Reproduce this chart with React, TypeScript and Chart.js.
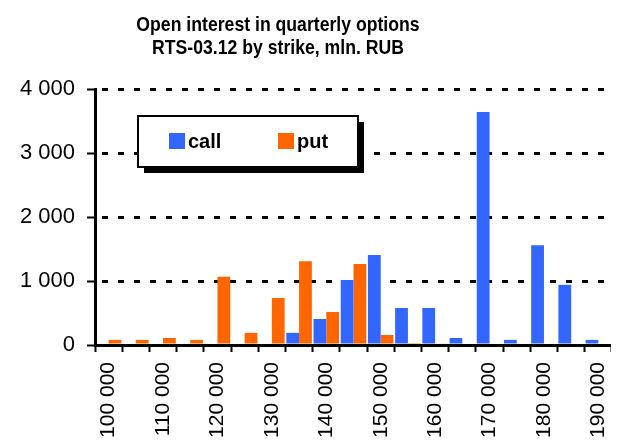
import React, { useEffect, useRef } from "react";
import { Chart, registerables } from "chart.js";

Chart.register(...registerables);

const strikes: string[] = [
  "100 000", "105 000", "110 000", "115 000", "120 000", "125 000", "130 000",
  "135 000", "140 000", "145 000", "150 000", "155 000", "160 000", "165 000",
  "170 000", "175 000", "180 000", "185 000", "190 000",
];
const callValues: number[] = [0, 0, 0, 0, 0, 0, 0, 190, 406, 1016, 1406, 578, 578, 110, 3640, 80, 1560, 940, 80];
const putValues: number[] = [80, 80, 110, 80, 1067, 190, 734, 1310, 516, 1266, 156, 30, 25, 0, 0, 0, 0, 0, 0];
const titleLines: string[] = ["Open interest in quarterly options", "RTS-03.12 by strike, mln. RUB"];
const seriesNames: string[] = ["call", "put"];
const seriesColors: string[] = ["#3366FF", "#FF6600"];

const FONT = "'Liberation Sans', Arial, sans-serif";

const titlePlugin = {
  id: "scaledTitle",
  afterDraw(chart: any) {
    const ctx = chart.ctx;
    ctx.save();
    ctx.fillStyle = "#000";
    ctx.font = `bold 21px ${FONT}`;
    ctx.textAlign = "center";
    ctx.textBaseline = "alphabetic";
    const baselines = [23, 46];
    titleLines.forEach((line, i) => {
      ctx.save();
      ctx.translate(270, baselines[i]);
      ctx.scale(0.84, 1);
      ctx.fillText(line, 0, 0);
      ctx.restore();
    });
    ctx.restore();
  },
};

const legendPlugin = {
  id: "boxLegend",
  afterDraw(chart: any) {
    const ctx = chart.ctx;
    const x = 130, y = 108, w = 220, h = 51;
    ctx.save();
    ctx.fillStyle = "#000";
    ctx.fillRect(x + 6, y + 6, w, h);
    ctx.fillStyle = "#fff";
    ctx.fillRect(x, y, w, h);
    ctx.lineWidth = 2;
    ctx.strokeStyle = "#000";
    ctx.strokeRect(x, y, w, h);
    const itemX = [161, 270];
    ctx.font = `bold 20px ${FONT}`;
    ctx.textBaseline = "middle";
    ctx.textAlign = "left";
    chart.data.datasets.forEach((ds: any, i: number) => {
      ctx.fillStyle = ds.backgroundColor;
      ctx.fillRect(itemX[i], 125, 16, 16);
      ctx.fillStyle = "#000";
      ctx.fillText(ds.label, itemX[i] + 19, 134);
    });
    ctx.restore();
  },
};

export default function App() {
  const ref = useRef<HTMLCanvasElement | null>(null);
  useEffect(() => {
    if (!ref.current) return;
    Chart.defaults.font.family = FONT;
    const chart = new Chart(ref.current, {
      type: "bar",
      data: {
        labels: strikes,
        datasets: [
          { label: seriesNames[0], data: callValues, backgroundColor: seriesColors[0], borderWidth: 0 },
          { label: seriesNames[1], data: putValues, backgroundColor: seriesColors[1], borderWidth: 0 },
        ],
      },
      options: {
        responsive: false,
        animation: false,
        layout: { padding: { top: 81, right: 2, left: 0, bottom: 0 } },
        datasets: { bar: { categoryPercentage: 0.94, barPercentage: 1 } },
        plugins: {
          legend: { display: false },
          title: { display: false },
          tooltip: { enabled: false },
        },
        scales: {
          x: {
            afterFit: (scale: any) => {
              scale.height = 92;
              scale.paddingLeft = 0;
              scale.paddingRight = 0;
            },
            grid: {
              offset: true,
              drawOnChartArea: false,
              drawTicks: true,
              tickLength: 7,
              tickColor: "#000",
              tickWidth: 2,
            },
            border: { display: true, color: "#000", width: 3 },
            ticks: {
              autoSkip: false,
              minRotation: 90,
              maxRotation: 90,
              padding: 10,
              color: "#000",
              font: { size: 21, family: FONT },
              callback: (_v: any, i: number) => (i % 2 === 0 ? strikes[i] : ""),
            },
          },
          y: {
            min: 0,
            max: 4000,
            afterFit: (scale: any) => {
              scale.width = 87;
              scale.paddingTop = 0;
              scale.paddingBottom = 0;
            },
            grid: {
              color: "#000",
              lineWidth: 3,
              drawTicks: true,
              tickLength: 8,
              tickColor: "#000",
              tickWidth: 2,
            },
            border: { display: true, color: "#000", width: 3, dash: [6, 10], dashOffset: 11 },
            ticks: {
              stepSize: 1000,
              padding: 12,
              color: "#000",
              font: { size: 22, family: FONT },
              callback: (v: any) => Number(v).toLocaleString("en-US").replace(/,/g, " "),
            },
          },
        },
      },
      plugins: [titlePlugin, legendPlugin],
    });
    return () => chart.destroy();
  }, []);
  return (
    <div style={{ width: 606, height: 429 }}>
      <canvas ref={ref} width={606} height={429} style={{ display: "block" }} />
    </div>
  );
}
